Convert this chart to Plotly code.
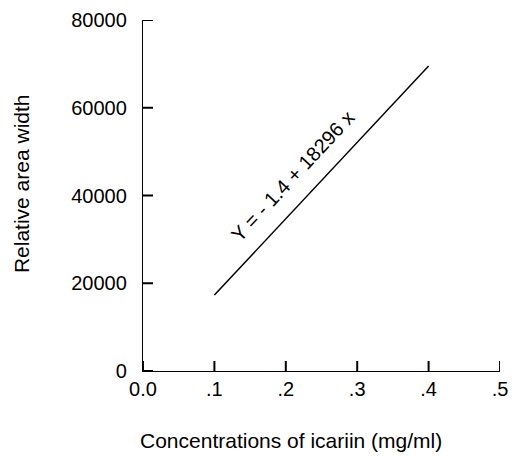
import plotly.graph_objects as go

# Data
concentration = [0.1, 0.4]
relative_area = [17300, 69500]
x_tick_vals = [0.0, 0.1, 0.2, 0.3, 0.4, 0.5]
x_tick_text = ["0.0", ".1", ".2", ".3", ".4", ".5"]
y_tick_vals = [0, 20000, 40000, 60000, 80000]
y_tick_text = ["0", "20000", "40000", "60000", "80000"]
equation_text = "Y = - 1.4 + 18296 x"
x_title = "Concentrations of icariin (mg/ml)"
y_title = "Relative area width"

FONT = "Liberation Sans, Arial, sans-serif"
TICK_LEN = 10

fig = go.Figure()
fig.add_trace(go.Scatter(
    x=concentration, y=relative_area, mode="lines",
    line=dict(color="black", width=1.5), showlegend=False, hoverinfo="skip",
))

fig.add_annotation(
    x=0.21, y=44400, xref="x", yref="y", text=equation_text,
    showarrow=False, textangle=-47,
    font=dict(family=FONT, size=20, color="black"),
)

# axis titles placed as annotations (the x title sits left of centre)
fig.add_annotation(
    x=0.4146, y=-0.1966, xref="paper", yref="paper", text=x_title,
    showarrow=False, xanchor="center", yanchor="middle",
    font=dict(family=FONT, size=21, color="black"),
)
fig.add_annotation(
    x=-0.3403, y=0.534, xref="paper", yref="paper", text=y_title,
    showarrow=False, xanchor="center", yanchor="middle", textangle=-90,
    font=dict(family=FONT, size=21, color="black"),
)

# inward tick marks at the tick values
for v in x_tick_vals:
    fig.add_shape(type="line", xref="x", yref="y", x0=v, x1=v,
                  ysizemode="pixel", yanchor=0, y0=0, y1=TICK_LEN,
                  line=dict(color="black", width=2))
for v in y_tick_vals:
    fig.add_shape(type="line", xref="x", yref="y", y0=v, y1=v,
                  xsizemode="pixel", xanchor=0, x0=0, x1=TICK_LEN,
                  line=dict(color="black", width=2))

# page body has an 8px margin, so the figure is 8px smaller and margins shifted
fig.update_layout(
    width=511, height=449,
    margin=dict(l=135, r=19, t=12, b=86),
    paper_bgcolor="white", plot_bgcolor="white",
    font=dict(family=FONT, size=20, color="black"),
    xaxis=dict(
        range=[0, 0.5], tickvals=x_tick_vals, ticktext=x_tick_text,
        showgrid=False, zeroline=False, showline=True, linecolor="black", linewidth=1.3,
        ticks="inside", ticklen=TICK_LEN, tickwidth=1.3, tickcolor="black",
        automargin=False,
    ),
    yaxis=dict(
        range=[0, 80000], tickvals=y_tick_vals, ticktext=y_tick_text,
        showgrid=False, zeroline=False, showline=True, linecolor="black", linewidth=1.3,
        ticks="inside", ticklen=TICK_LEN, tickwidth=1.3, tickcolor="black",
        ticklabelstandoff=11, automargin=False,
    ),
)

fig.write_html("out.html")
